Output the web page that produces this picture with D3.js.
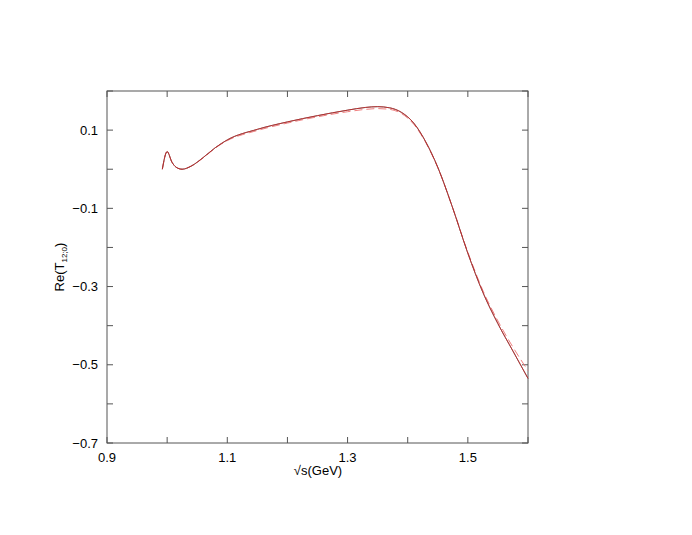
<!DOCTYPE html><html><head><script src="https://cdn.jsdelivr.net/npm/d3@7"></script>
<style>body{margin:0;background:#fff}text{font-family:"Liberation Sans",Arial,sans-serif}</style></head><body>
<svg id="c" width="692" height="535"></svg>
<script>
const xs=[0.992,1.0,1.008,1.015,1.025,1.04,1.06,1.08,1.1,1.15,1.2,1.25,1.3,1.33,1.35,1.37,1.39,1.41,1.43,1.45,1.475,1.5,1.525,1.55,1.575,1.6];
const solid=[0.0,0.045,0.018,0.005,0.0,0.008,0.030,0.055,0.075,0.102,0.121,0.137,0.151,0.158,0.160,0.157,0.145,0.118,0.070,0.005,-0.100,-0.215,-0.315,-0.395,-0.465,-0.535];
const dashed=[0.0,0.045,0.018,0.005,0.0,0.008,0.029,0.054,0.073,0.099,0.118,0.134,0.147,0.153,0.155,0.153,0.142,0.115,0.068,0.004,-0.100,-0.212,-0.310,-0.388,-0.455,-0.515];
const xTicks=[0.9,1.0,1.1,1.2,1.3,1.4,1.5,1.6], xLabels=[0.9,1.1,1.3,1.5];
const yTicks=[-0.7,-0.6,-0.5,-0.4,-0.3,-0.2,-0.1,0,0.1,0.2], yLabels=[-0.7,-0.5,-0.3,-0.1,0.1];
const svg=d3.select("#c");
const x=d3.scaleLinear().domain([0.9,1.6]).range([107,528]);
const y=d3.scaleLinear().domain([-0.7,0.2]).range([443,91]);
const g=svg.append("g");
g.append("rect").attr("x",107).attr("y",91).attr("width",421).attr("height",352).attr("fill","none").attr("stroke","#555");
const fmt=v=>(v<0?"\u2212"+Math.abs(v).toFixed(1):v.toFixed(1));
xTicks.forEach(t=>{g.append("line").attr("x1",x(t)).attr("x2",x(t)).attr("y1",443).attr("y2",437).attr("stroke","#555");
 g.append("line").attr("x1",x(t)).attr("x2",x(t)).attr("y1",91).attr("y2",97).attr("stroke","#555");});
xLabels.forEach(t=>g.append("text").attr("x",x(t)).attr("y",462).attr("text-anchor","middle").attr("font-size",13).text(t.toFixed(1)));
yTicks.forEach(t=>{g.append("line").attr("x1",107).attr("x2",113).attr("y1",y(t)).attr("y2",y(t)).attr("stroke","#555");
 g.append("line").attr("x1",522).attr("x2",528).attr("y1",y(t)).attr("y2",y(t)).attr("stroke","#555");});
yLabels.forEach(t=>g.append("text").attr("x",98).attr("y",y(t)+4.5).attr("text-anchor","end").attr("font-size",13).text(fmt(t)));
svg.append("text").attr("x",318).attr("y",475).attr("text-anchor","middle").attr("font-size",13).text("\u221As(GeV)");
const yl=svg.append("text").attr("transform","translate(64,267) rotate(-90)").attr("text-anchor","middle").attr("font-size",13);
yl.append("tspan").text("Re(T");yl.append("tspan").attr("font-size",8).attr("dy",3).text("12;0");yl.append("tspan").attr("dy",-3).text(")");
const line=d3.line().curve(d3.curveMonotoneX);
const pts=a=>xs.map((v,i)=>[x(v),y(a[i])]);
svg.append("path").attr("d",line(pts(dashed))).attr("fill","none").attr("stroke","#f08080").attr("stroke-dasharray","8,4");
svg.append("path").attr("d",line(pts(solid))).attr("fill","none").attr("stroke","#444").attr("stroke-width",0.9);
svg.append("path").attr("d",line(pts(solid))).attr("fill","none").attr("stroke","#e02020").attr("stroke-width",0.7);
</script></body></html>
